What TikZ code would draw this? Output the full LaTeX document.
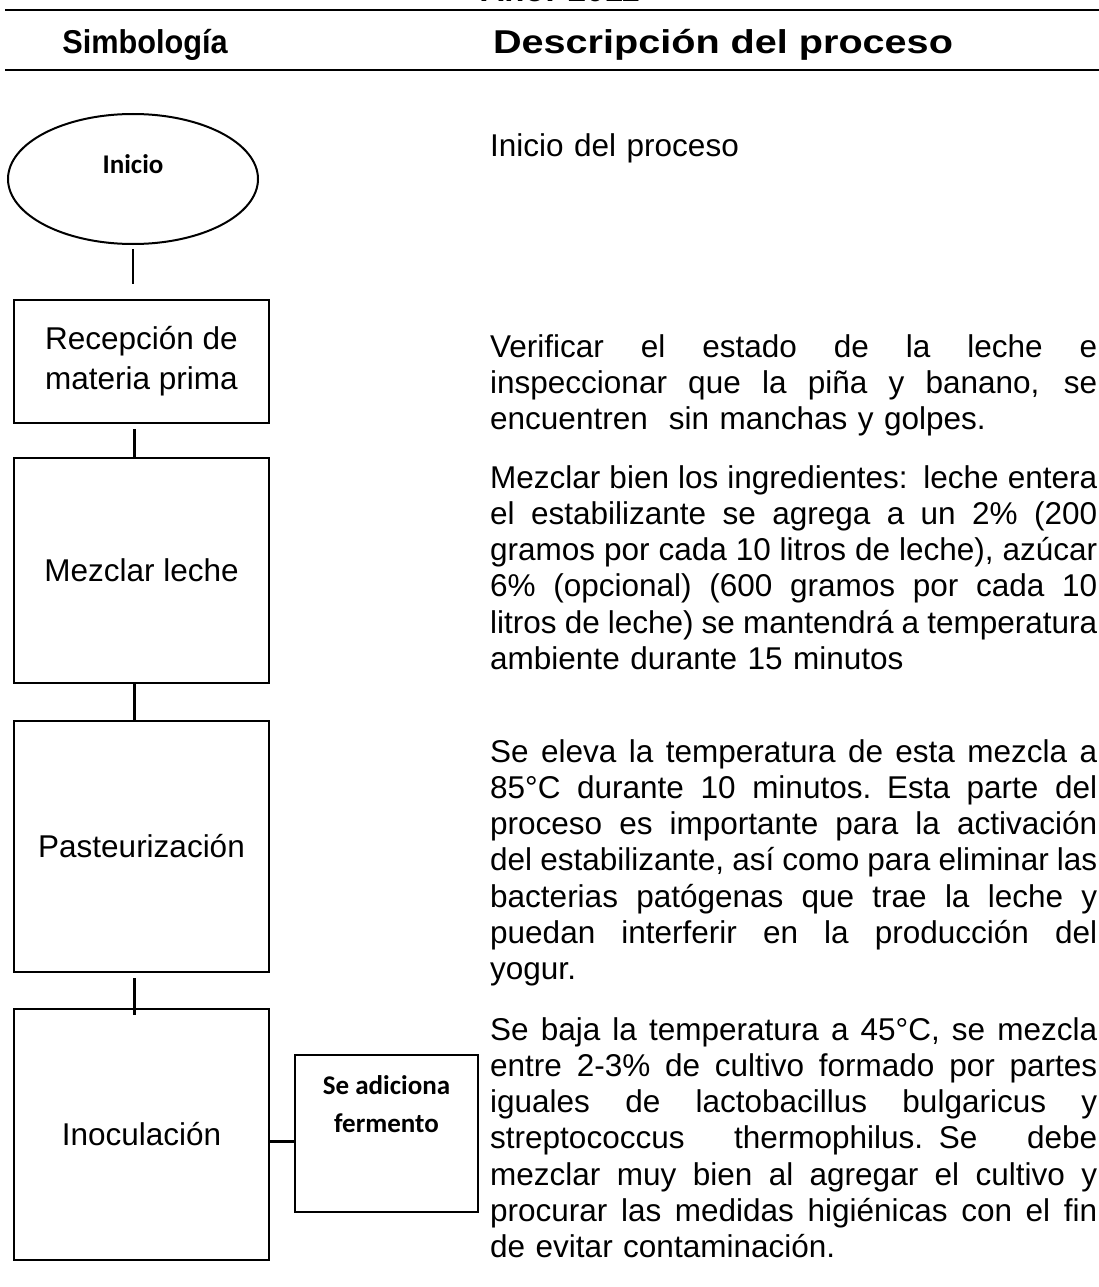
\documentclass[tikz,border=0pt]{standalone}
\usepackage{fontspec}
\setmainfont{Liberation Sans}
\newfontfamily\calib{Carlito}
\usetikzlibrary{shapes.geometric}
\newlength\descw \setlength\descw{607pt}
\newcommand\jl[1]{\makebox[\descw][s]{\spaceskip=0.278em plus 1em minus 0.12em\relax #1}}
\begin{document}
\begin{tikzpicture}[x=1pt,y=-1pt,
  box/.style={draw,line width=2.7pt,inner sep=0pt,align=center,minimum width=255pt,font=\fontsize{31.5}{40}\selectfont},
  conn/.style={line width=2.4pt},
  desc/.style={anchor=base west,inner sep=0pt,text width=\descw,align=left,font=\fontsize{31.5}{36.3}\selectfont},
  head/.style={font=\bfseries\fontsize{33}{38}\selectfont,inner sep=0pt},
  hline/.style={line width=2.2pt},
  small/.style={font=\calib\bfseries\fontsize{27}{38}\selectfont,align=center,inner sep=0pt}]
\useasboundingbox (0,0) rectangle (1099,1287);
\clip (0,0) rectangle (1099,1287);
% header
\node[head,anchor=base] (yr) at (560,1.5) {Año: 2011};
\coordinate (l1a) at (5,10); \coordinate (l1b) at (1099,10);
\coordinate (l2a) at (5,70); \coordinate (l2b) at (1099,70);
\draw[hline] (l1a) -- (l1b);
\draw[hline] (l2a) -- (l2b);
\node[head] (h1) at (145,45) {\scalebox{0.93}[1]{Simbología}};
\node[head] (h2) at (723,45) {\scalebox{1.2}[1]{Descripción del proceso}};
% flow symbols
\node[draw,ellipse,line width=2pt,minimum width=250pt,minimum height=130pt,inner sep=0pt,
  label={[small,yshift=15pt]center:Inicio}] (ell) at (133,179) {};
\node[box,minimum height=123pt] (b1) at (141.5,361.5) {Recepción de\\materia prima};
\node[box,minimum height=225pt] (b2) at (141.5,570.5) {Mezclar leche};
\node[box,minimum height=251pt] (b3) at (141.5,846.5) {Pasteurización};
\node[box,minimum height=251pt] (b4) at (141.5,1134.5) {Inoculación};
\node[draw,line width=2.4pt,minimum width=183pt,minimum height=157pt,inner sep=0pt,
  label={[small,yshift=29.5pt]center:Se adiciona\\fermento}] (sb) at (386.5,1133.5) {};
\draw[conn,shorten <=4pt,shorten >=15pt] (ell.south) -- (ell.south |- b1.north);
\draw[conn,shorten <=5pt] ([xshift=-7pt]b1.south) -- ([xshift=-7pt]b2.north);
\draw[conn] ([xshift=-7pt]b2.south) -- ([xshift=-7pt]b3.north);
\draw[conn,shorten <=5pt,shorten >=-7pt] ([xshift=-7pt]b3.south) -- ([xshift=-7pt]b4.north);
\draw[conn] ([yshift=-8pt]sb.west) -- ([yshift=-8pt]sb.west -| b4.east);
% descriptions
\node[desc] (d1) at (490,157) {Inicio del proceso};
\node[desc] (d2) at (490,357) {\jl{Verificar el estado de la leche e}\\
\jl{inspeccionar que la piña y banano, se}\\
encuentren\ \ sin manchas y golpes.};
\node[desc] (d3) at (490,488) {\jl{Mezclar bien los ingredientes: leche entera}\\
\jl{el estabilizante se agrega a un 2\% (200}\\
\jl{gramos por cada 10 litros de leche), azúcar}\\
\jl{6\% (opcional) (600 gramos por cada 10}\\
\jl{litros de leche) se mantendrá a temperatura}\\
ambiente durante 15 minutos};
\node[desc] (d4) at (490,762) {\jl{Se eleva la temperatura de esta mezcla a}\\
\jl{85°C durante 10 minutos. Esta parte del}\\
\jl{proceso es importante para la activación}\\
\jl{del estabilizante, así como para eliminar las}\\
\jl{bacterias patógenas que trae la leche y}\\
\jl{puedan interferir en la producción del}\\
yogur.};
\node[desc] (d5) at (490,1040) {\jl{Se baja la temperatura a 45°C, se mezcla}\\
\jl{entre 2-3\% de cultivo formado por partes}\\
\jl{iguales de lactobacillus bulgaricus y}\\
\jl{streptococcus thermophilus. Se debe}\\
\jl{mezclar muy bien al agregar el cultivo y}\\
\jl{procurar las medidas higiénicas con el fin}\\
de evitar contaminación.};
\end{tikzpicture}
\end{document}
